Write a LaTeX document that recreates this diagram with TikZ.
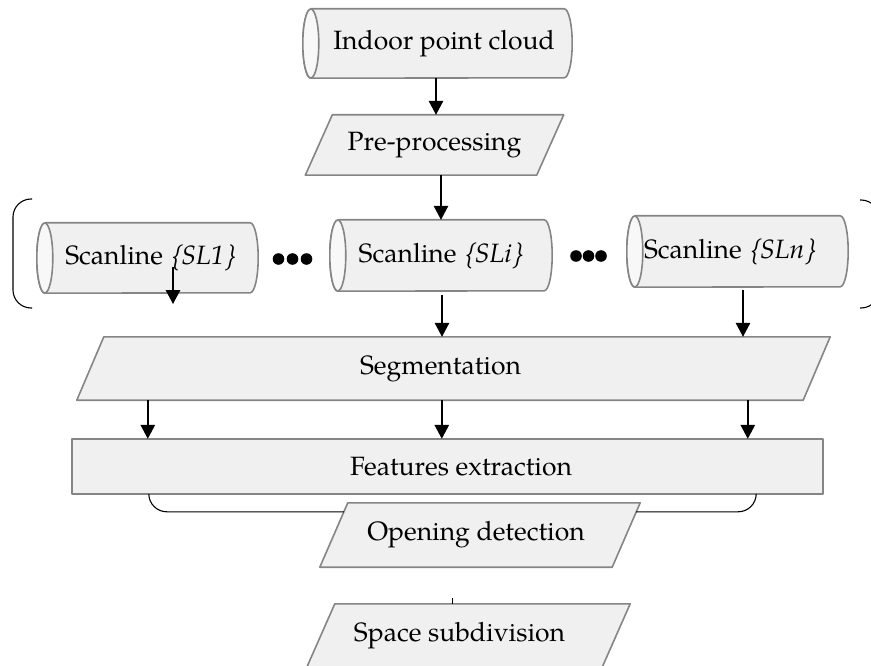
\documentclass[tikz,border=0pt]{standalone}
\usepackage{fontspec}
\setmainfont{texgyrepagella}[Extension=.otf, UprightFont=*-regular, ItalicFont=*-italic, BoldFont=*-bold, BoldItalicFont=*-bolditalic]
\newfontface\slbraces{texgyrepagella-regular.otf}[FakeSlant=0.2]
\newcommand{\brl}{{\slbraces\{}}
\newcommand{\brr}{{\slbraces\}}}
\usetikzlibrary{arrows.meta,backgrounds,calc}
\definecolor{shapefill}{HTML}{F0F0F0}
\definecolor{capfill}{HTML}{F8F8F8}
\definecolor{shapeline}{HTML}{858585}
\tikzset{
  lbl/.style={draw=none, inner sep=0pt, font=\fontsize{26.5}{30}\selectfont},
  shp/.style={fill=shapefill, draw=shapeline, line width=1.6pt, line join=round},
  arr/.style={draw=black, line width=1.4pt, -{Triangle[width=14.5pt,length=14pt]}},
  brk/.style={draw=black, line width=1.1pt, rounded corners=18pt},
  tick/.style={draw=black, line width=0.8pt},
  bigdot/.style={fill=black},
}
\newcommand{\cylpath}[3]{%
  \path[shp] ([xshift=#2pt]#1.north west) -- ([xshift=-#2pt]#1.north east)
    arc[start angle=-90,end angle=90,x radius=#2,y radius=#3]
    -- ([xshift=#2pt]#1.south west)
    arc[start angle=90,end angle=270,x radius=#2,y radius=#3] -- cycle;
  \path[shp, fill=capfill] ([xshift=#2pt]#1.west) ellipse[x radius=#2, y radius=#3];
}
\newcommand{\parapath}[2]{%
  \path[shp] ([xshift=#2pt]#1.north west) -- (#1.north east)
    -- ([xshift=-#2pt]#1.south east) -- (#1.south west) -- cycle;
}
\begin{document}
\begin{tikzpicture}[x=1pt,y=-1pt]
\useasboundingbox (0,0) rectangle (871,666);

% nodes
\node[lbl, minimum width=269pt, minimum height=69pt] (indoor) at (437.5,43.5) {\hspace*{13pt}Indoor point cloud};
\node[lbl, minimum width=258pt, minimum height=60pt] (pre) at (434.5,145) {Pre-processing};
\node[lbl, minimum width=221pt, minimum height=70pt] (sl1) at (147.5,258) {\hspace*{6pt}Scanline \brl\textit{SL1}\brr};
\node[lbl, minimum width=222pt, minimum height=71pt] (sli) at (441,255.5) {Scanline \brl\textit{SLi}\brr};
\node[lbl, minimum width=221pt, minimum height=71pt] (sln) at (737.5,251.5) {Scanline \brl\textit{SLn}\brr\hspace*{15pt}};
\node[lbl, minimum width=753pt, minimum height=63pt] (seg) at (453.5,368.5) {Segmentation\hspace*{26pt}};
\node[lbl, minimum width=751pt, minimum height=55pt] (feat) at (447.5,466.5) {\hspace*{27pt}Features extraction};
\node[lbl, minimum width=320pt, minimum height=64pt] (open) at (480,535) {Opening detection\hspace*{8pt}};
\node[lbl, minimum width=323pt, minimum height=63pt] (space) at (468.5,635.5) {Space subdivision\hspace*{18pt}};

% shapes behind the texts
\begin{pgfonlayer}{background}
\cylpath{indoor}{8}{34.5}
\parapath{pre}{27}
\cylpath{sl1}{8}{35}
\cylpath{sli}{8}{35.5}
\cylpath{sln}{8}{35.5}
\parapath{seg}{27}
\path[shp] (feat.north west) rectangle (feat.south east);
\parapath{open}{28}
\parapath{space}{28}
\end{pgfonlayer}

% dots
\foreach \cx in {278.5,292.5,306.5} \fill[bigdot] (\cx,259) circle (5.8);
\foreach \cx in {576,588.5,601} \fill[bigdot] (\cx,256) circle (5.8);

% brackets round the scanlines
\draw[brk] (32,199) -- (13,199) -- (13,308) -- (32,308);
\draw[brk] (860,200) -- (879,200) -- (879,308) -- (860,308);

% coordinates for connectors
\coordinate (s1a) at (173,267);
\coordinate (s1b) at (173,304);
\coordinate (sna) at ([xshift=5.5pt,yshift=-3pt]sln.south);
\coordinate (sia) at ([xshift=1pt,yshift=-4pt]sli.south);
\coordinate (f1) at ([xshift=76pt]feat.north west);
\coordinate (f2) at ([xshift=370pt]feat.north west);
\coordinate (f3) at ([xshift=676pt]feat.north west);
\coordinate (tk) at ([xshift=-16.5pt,yshift=6pt]space.north);

% arrows
\draw[arr] ([xshift=-1.5pt]indoor.south) -- ([xshift=-1.5pt]indoor.south |- pre.north);
\draw[arr] (sli.north |- pre.south) -- (sli.north);
\draw[arr] (s1a) -- (s1b);
\draw[arr] (sia) -- (sia |- seg.north);
\draw[arr] (sna) -- (sna |- seg.north);
\draw[arr] (f1 |- seg.south) -- (f1);
\draw[arr] (f2 |- seg.south) -- (f2);
\draw[arr] (f3 |- seg.south) -- (f3);

% bracket under features extraction
\draw[brk] ([xshift=77pt]feat.south west) |- ([xshift=24pt,yshift=-9pt]open.north west);
\draw[brk] ([xshift=-67pt]feat.south east) |- ([xshift=-4pt,yshift=-9pt]open.north east);

% small tick above space subdivision
\draw[tick] (tk) -- (tk |- space.north);
\end{tikzpicture}
\end{document}
